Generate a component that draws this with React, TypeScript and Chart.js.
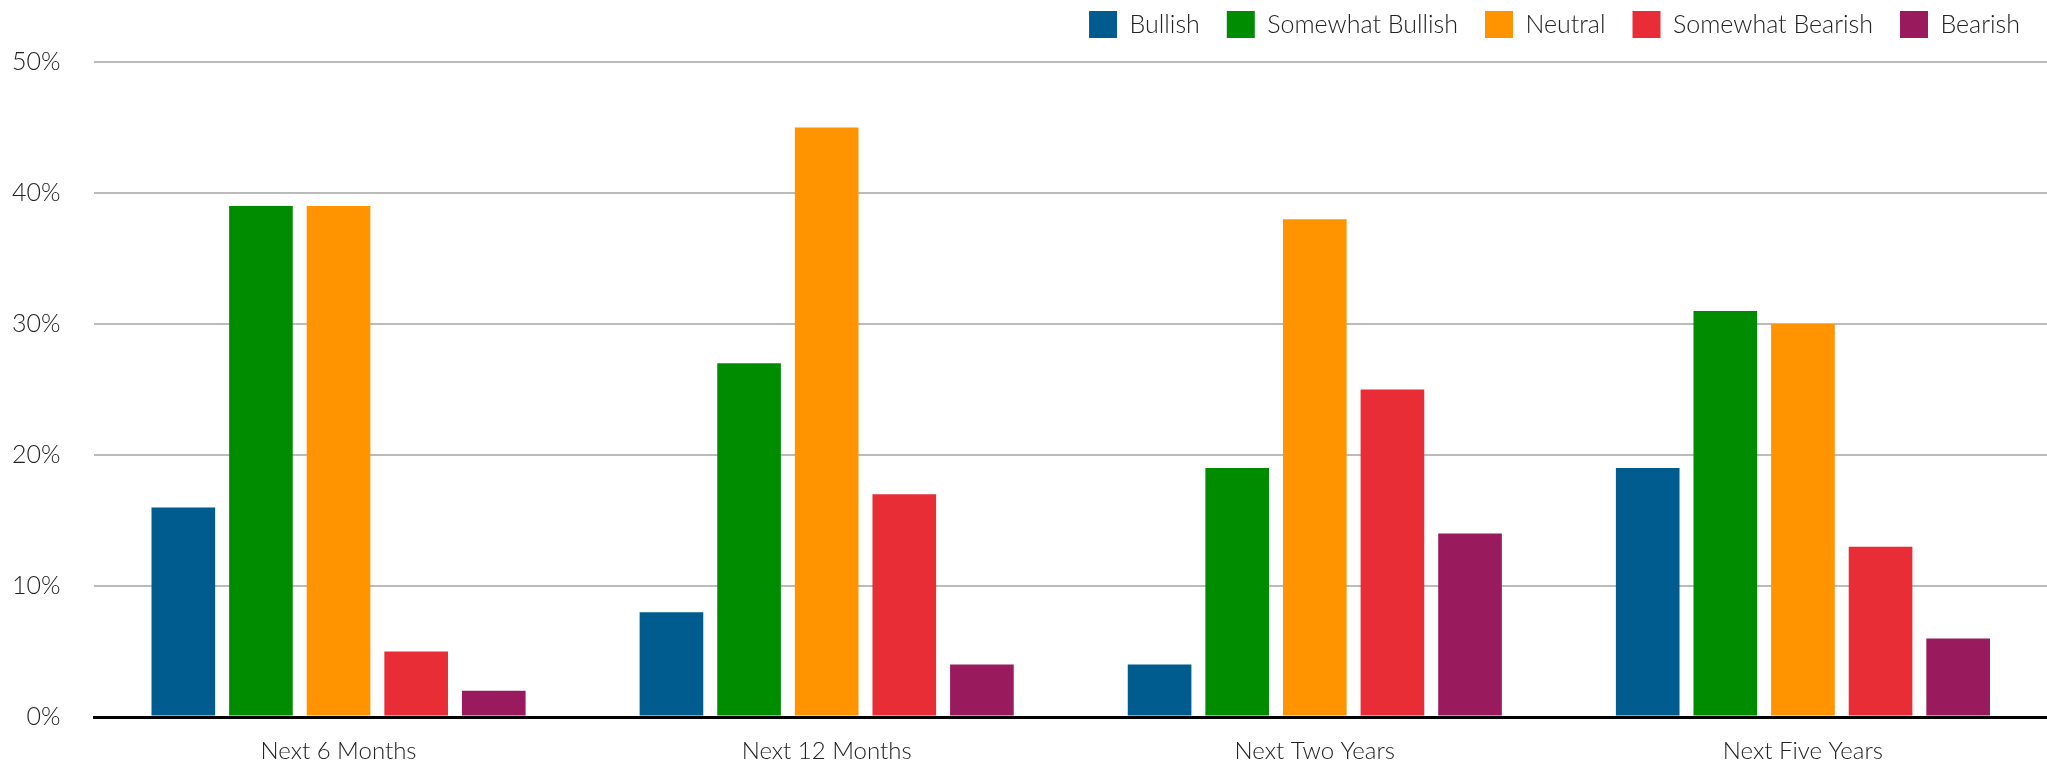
import React, { useEffect, useRef } from "react";
import { Chart, registerables } from "chart.js";

Chart.register(...registerables);

const categories = ["Next 6 Months", "Next 12 Months", "Next Two Years", "Next Five Years"];
const seriesNames = ["Bullish", "Somewhat Bullish", "Neutral", "Somewhat Bearish", "Bearish"];
const bullish = [16, 8, 4, 19];
const somewhatBullish = [39, 27, 19, 31];
const neutral = [39, 45, 38, 30];
const somewhatBearish = [5, 17, 25, 13];
const bearish = [2, 4, 14, 6];
const seriesColors = ["#005b8f", "#008c00", "#ff9400", "#e82d37", "#9a1a5e"];
const yTicks = [0, 10, 20, 30, 40, 50];

const FONT = "Lato, 'Liberation Sans', sans-serif";

const legendFitPlugin = {
  id: "legendFit",
  beforeInit(chart: any) {
    const legend = chart.legend;
    if (!legend) return;
    const orig = legend.fit;
    legend.fit = function () {
      orig.call(this);
      this.height += 14;
    };
  },
};

export default function App() {
  const ref = useRef<HTMLCanvasElement>(null);
  useEffect(() => {
    document.body.style.margin = "0";
    const values = [bullish, somewhatBullish, neutral, somewhatBearish, bearish];
    const chart = new Chart(ref.current!, {
      type: "bar",
      data: {
        labels: categories,
        datasets: seriesNames.map((name, i) => ({
          label: name,
          data: values[i],
          backgroundColor: seriesColors[i],
          borderWidth: 0,
          categoryPercentage: 0.795,
          barPercentage: 0.82,
        })),
      },
      plugins: [legendFitPlugin],
      options: {
        animation: false,
        responsive: false,
        maintainAspectRatio: false,
        layout: { padding: { left: -22, right: 0, top: -16, bottom: -27 } },
        plugins: {
          tooltip: { enabled: false },
          legend: {
            position: "top",
            align: "end",
            labels: {
              boxWidth: 28,
              boxHeight: 27,
              padding: 27,
              color: "#222",
              font: { family: FONT, size: 25, weight: "300" },
            },
          },
        },
        scales: {
          x: {
            grid: { display: false, drawTicks: false },
            border: { display: true, color: "#000", width: 3 },
            ticks: {
              color: "#222",
              padding: 20,
              font: { family: FONT, size: 24, weight: "300" },
            },
          },
          y: {
            min: 0,
            max: 50,
            afterBuildTicks: (axis: any) => {
              axis.ticks = yTicks.map((v) => ({ value: v }));
            },
            border: { display: false },
            grid: {
              drawTicks: false,
              color: (ctx: any) => (ctx.tick && ctx.tick.value === 0 ? "#000" : "#bbbbbb"),
              lineWidth: (ctx: any) => (ctx.tick && ctx.tick.value === 0 ? 3 : 2),
            },
            ticks: {
              color: "#222",
              padding: 34,
              font: { family: FONT, size: 25, weight: "300" },
              callback: (v: any) => `${v}%`,
            },
          },
        },
      },
    });
    return () => chart.destroy();
  }, []);
  return (
    <div style={{ width: 2047, height: 766 }}>
      <canvas ref={ref} width={2047} height={766} style={{ display: "block" }} />
    </div>
  );
}
